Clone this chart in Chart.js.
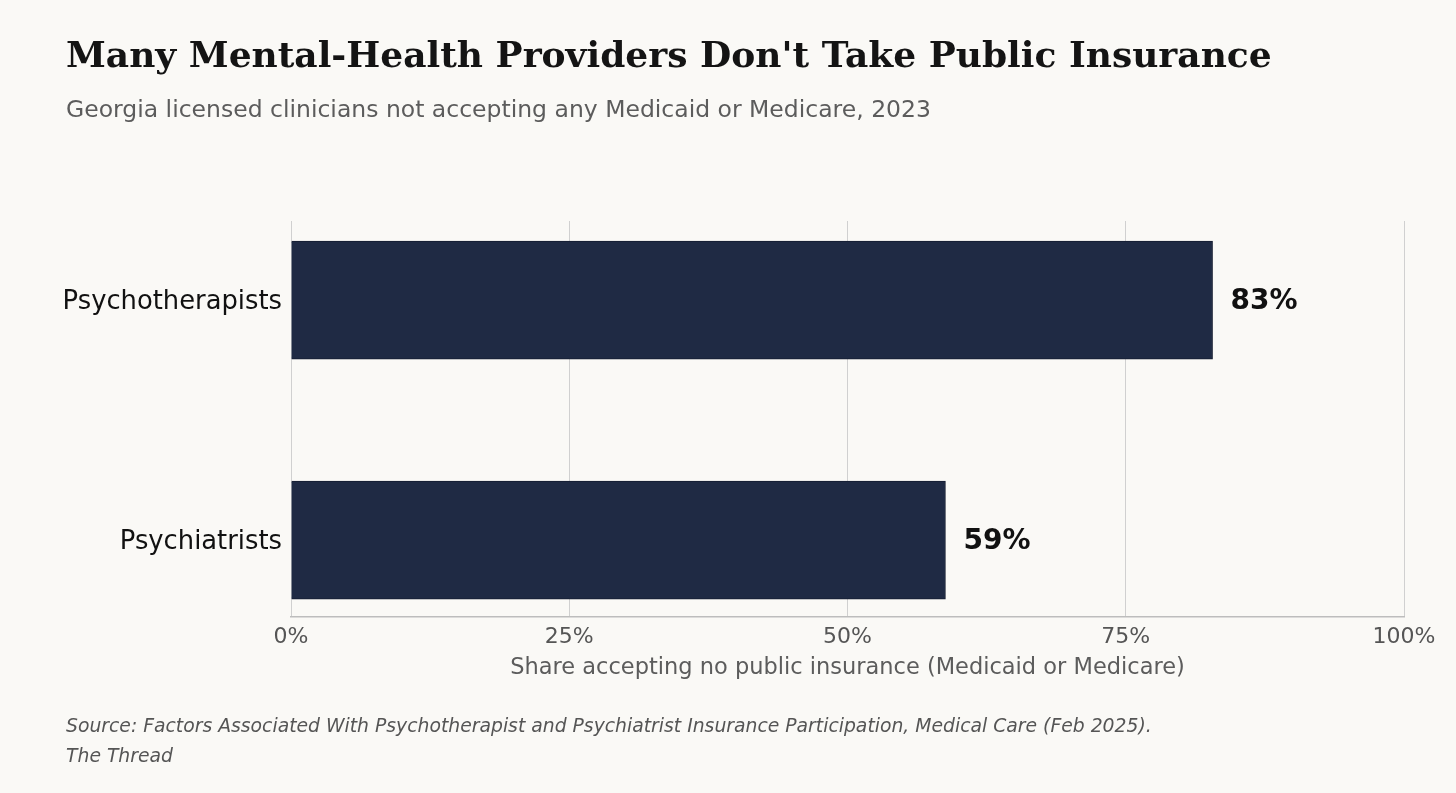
<!DOCTYPE html>
<html>
<head>
<meta charset="utf-8">
<script src="https://cdn.jsdelivr.net/npm/chart.js@4.4.1/dist/chart.umd.min.js"></script>
<style>
  html, body { margin: 0; padding: 0; background: #faf9f6; overflow: hidden; }
  #wrap { width: 1456px; height: 793px; position: relative; }
</style>
</head>
<body>
<div id="wrap"><canvas id="chart"></canvas></div>
<script>
// --- data ---
const categories = ['Psychotherapists', 'Psychiatrists'];
const shareNoPublic = [82.8, 58.8];
const xTickValues = [0, 25, 50, 75, 100];

const titleText = "Many Mental-Health Providers Don't Take Public Insurance";
const subtitleText = 'Georgia licensed clinicians not accepting any Medicaid or Medicare, 2023';
const axisTitle = 'Share accepting no public insurance (Medicaid or Medicare)';
const footerLines = [
  'Source: Factors Associated With Psychotherapist and Psychiatrist Insurance Participation, Medical Care (Feb 2025).',
  'The Thread'
];

const BG = '#faf9f6';
const BAR = '#1f2a44';
const SANS = "'DejaVu Sans', sans-serif";

// background, titles and source note
const textPlugin = {
  id: 'pageText',
  beforeDraw(chart) {
    const c = chart.ctx;
    c.save();
    c.fillStyle = BG;
    c.fillRect(0, 0, chart.width, chart.height);
    c.textBaseline = 'alphabetic';
    c.textAlign = 'left';
    c.fillStyle = '#141414';
    c.font = "bold 36px 'DejaVu Serif', serif";
    c.fillText(titleText, 66, 67);
    c.fillStyle = '#5c5c5c';
    c.font = '23.5px ' + SANS;
    c.fillText(subtitleText, 66, 117);
    c.fillStyle = '#555555';
    c.font = 'italic 18.8px ' + SANS;
    footerLines.forEach((t, i) => c.fillText(t, 66, 732 + i * 29.5));
    c.restore();
  }
};

// value labels at bar ends
const valueLabels = {
  id: 'valueLabels',
  afterDatasetsDraw(chart) {
    const c = chart.ctx;
    const meta = chart.getDatasetMeta(0);
    c.save();
    c.font = 'bold 28px ' + SANS;
    c.fillStyle = '#111111';
    c.textAlign = 'left';
    c.textBaseline = 'middle';
    meta.data.forEach((bar, i) => {
      c.fillText(Math.round(shareNoPublic[i]) + '%', bar.x + 18, bar.y + 2);
    });
    c.restore();
  }
};

new Chart(document.getElementById('chart'), {
  type: 'bar',
  data: {
    datasets: [{
      data: shareNoPublic.map((v, i) => ({ x: v, y: i })),
      backgroundColor: BAR,
      borderColor: '#151c30',
      borderWidth: 1,
      barThickness: 118
    }]
  },
  options: {
    indexAxis: 'y',
    responsive: true,
    maintainAspectRatio: false,
    animation: false,
    layout: { padding: { top: 221, right: 52, bottom: 111, left: 0 } },
    plugins: {
      legend: { display: false },
      tooltip: { enabled: false }
    },
    scales: {
      x: {
        type: 'linear',
        min: 0,
        max: 100,
        afterBuildTicks: (s) => { s.ticks = xTickValues.map(v => ({ value: v })); },
        afterFit: (s) => { s.height = 65; },
        ticks: {
          callback: (v) => v + '%',
          color: '#555555',
          font: { family: SANS, size: 22 },
          padding: 7,
          maxRotation: 0
        },
        grid: { color: '#d0d0d0', lineWidth: 1, drawTicks: false },
        border: { display: true, color: '#bdbdbd', width: 1.5 },
        title: {
          display: true,
          text: axisTitle,
          color: '#5c5c5c',
          font: { family: SANS, size: 22.5 },
          padding: { top: 0, bottom: 0 }
        }
      },
      y: {
        type: 'linear',
        offset: false,
        reverse: true,
        min: -0.33,
        max: 1.32,
        afterBuildTicks: (s) => { s.ticks = categories.map((c, i) => ({ value: i })); },
        afterFit: (s) => { s.width = 291; },
        ticks: {
          callback: (v) => categories[v],
          color: '#111111',
          font: { family: SANS, size: 25.8 },
          padding: 9,
          labelOffset: 2
        },
        grid: { display: false, drawTicks: false, offset: false },
        border: { display: false }
      }
    }
  },
  plugins: [textPlugin, valueLabels]
});
</script>
</body>
</html>
